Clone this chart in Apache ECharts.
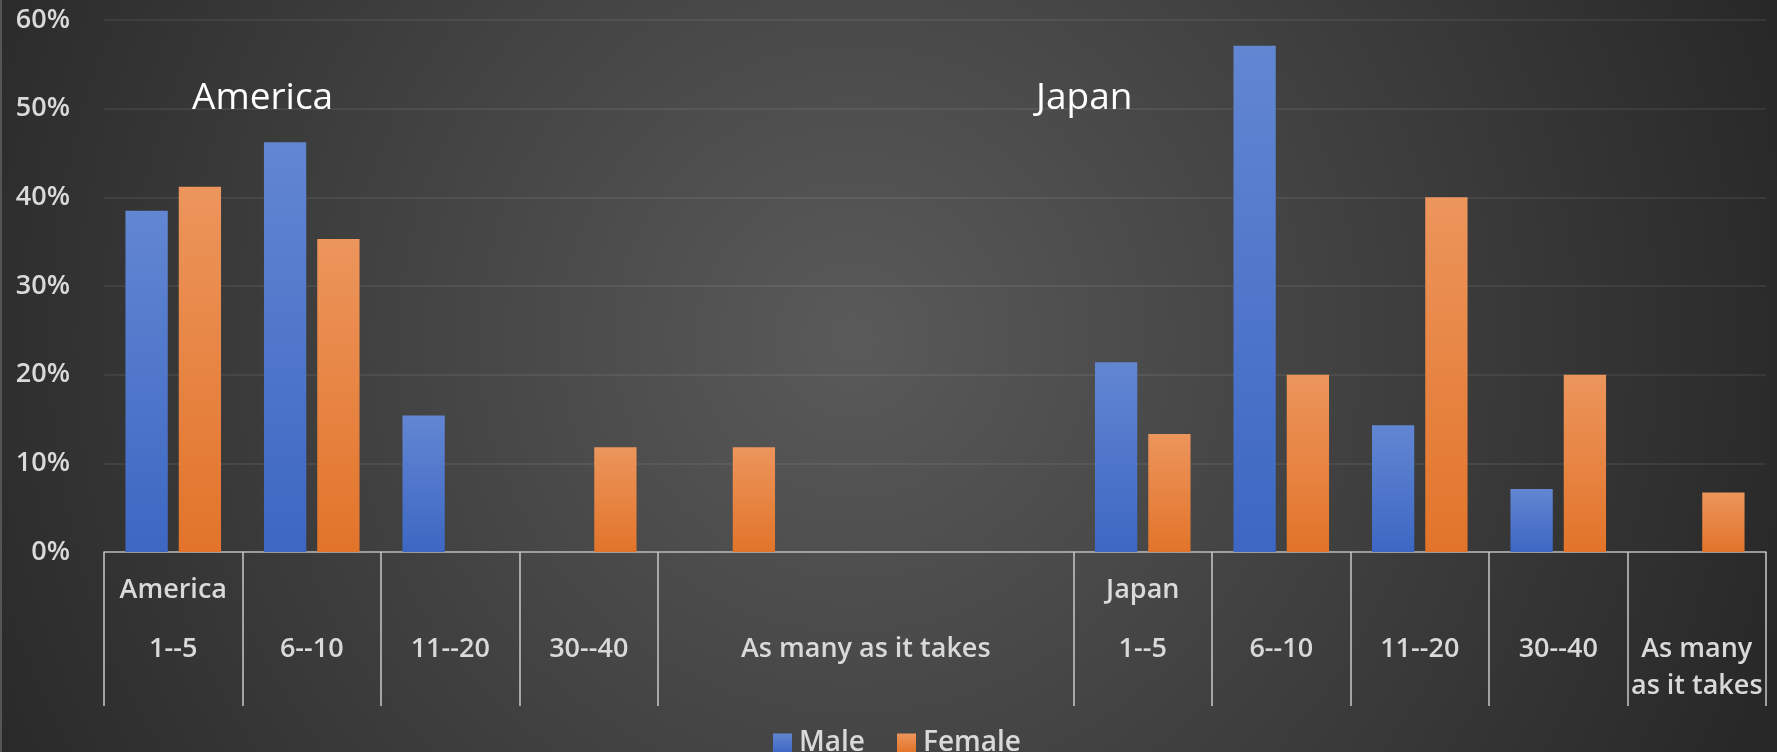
<!DOCTYPE html>
<html>
<head>
<meta charset="utf-8">
<script src="https://cdn.jsdelivr.net/npm/echarts@6/dist/echarts.min.js"></script>
<style>
  html, body { margin: 0; padding: 0; background: #2b2b2b; }
  #chart { width: 1777px; height: 752px; }
</style>
</head>
<body>
<div id="chart"></div>
<script>
// ---- data ----
const categories = ['1--5', '6--10', '11--20', '30--40', 'As many as it takes', '', '',
                    '1--5', '6--10', '11--20', '30--40', 'As many as it takes'];
const groupLabels = ['America', '', '', '', '', '', '', 'Japan', '', '', '', ''];
// displayed tick labels (America's last label spans the three-slot block and sits in its middle)
const tickLabels = ['1--5', '6--10', '11--20', '30--40', '', 'As many as it takes', '',
                    '1--5', '6--10', '11--20', '30--40', 'As many\nas it takes'];
const maleValues   = [38.5, 46.2, 15.4, null, null, null, null, 21.4, 57.1, 14.3, 7.1, null];
const femaleValues = [41.2, 35.3, null, 11.8, 11.8, null, null, 13.3, 20.0, 40.0, 20.0, 6.7];
const seriesNames = ['Male', 'Female'];
const annotations = ['America', 'Japan'];
const yMin = 0, yMax = 60, yInterval = 10;
const hiddenBoundaries = [5, 6];

const chart = echarts.init(document.getElementById('chart'), null, { renderer: 'canvas' });

const labelColor = '#d9d9d9';
const font = '"Open Sans", "Liberation Sans", sans-serif';

const option = {
  backgroundColor: {
    type: 'radial', x: 0.48, y: 0.45, r: 1.3,
    colorStops: [
      { offset: 0, color: '#5a5a5a' },
      { offset: 1, color: '#282828' }
    ]
  },
  textStyle: { fontFamily: font },
  grid: { left: 104, right: 11, top: 20, bottom: 200, containLabel: false, outerBoundsMode: 'none' },
  legend: {
    data: seriesNames,
    left: 768,
    top: 724,
    itemWidth: 19,
    itemHeight: 19,
    itemGap: 32,
    icon: 'rect',
    textStyle: { color: labelColor, fontSize: 28, fontWeight: 600, fontFamily: font, padding: [0, 0, 0, 2] }
  },
  xAxis: {
    type: 'category',
    data: categories,
    boundaryGap: true,
    axisLine: { show: true, lineStyle: { color: '#b8b8b8', width: 1.5 } },
    axisTick: {
      show: true,
      length: 154,
      interval: function (index) { return hiddenBoundaries.indexOf(index) < 0; },
      lineStyle: { color: '#c8c8c8', width: 1.5 }
    },
    splitLine: { show: false },
    axisLabel: {
      interval: 0,
      margin: 23,
      color: labelColor,
      formatter: function (value, index) {
        const g = groupLabels[index] || ' ';
        const lines = tickLabels[index].split('\n');
        return '{g|' + g + '}\n{s| }\n' + lines.map(l => '{c|' + (l || ' ') + '}').join('\n');
      },
      rich: {
        g: { fontSize: 27, fontWeight: 600, color: labelColor, lineHeight: 30, fontFamily: font },
        s: { fontSize: 10, lineHeight: 26, fontFamily: font },
        c: { fontSize: 27, fontWeight: 600, color: labelColor, lineHeight: 37, fontFamily: font }
      }
    }
  },
  yAxis: {
    type: 'value',
    min: yMin,
    max: yMax,
    interval: yInterval,
    axisLine: { show: false },
    axisTick: { show: false },
    axisLabel: {
      formatter: '{value}%',
      color: labelColor,
      fontSize: 27,
      fontWeight: 600,
      margin: 34,
      fontFamily: font
    },
    splitLine: { lineStyle: { color: 'rgba(255,255,255,0.09)', width: 1.5 } }
  },
  series: [
    {
      name: seriesNames[0],
      type: 'bar',
      data: maleValues,
      barCategoryGap: '31%',
      barGap: '26%',
      itemStyle: {
        color: {
          type: 'linear', x: 0, y: 0, x2: 0, y2: 1,
          colorStops: [
            { offset: 0, color: '#6286d2' },
            { offset: 1, color: '#3d67c3' }
          ]
        },
        shadowColor: 'rgba(0,0,0,0.55)',
        shadowBlur: 6
      }
    },
    {
      name: seriesNames[1],
      type: 'bar',
      data: femaleValues,
      barCategoryGap: '31%',
      barGap: '26%',
      itemStyle: {
        color: {
          type: 'linear', x: 0, y: 0, x2: 0, y2: 1,
          colorStops: [
            { offset: 0, color: '#ec955c' },
            { offset: 1, color: '#e2742a' }
          ]
        },
        shadowColor: 'rgba(0,0,0,0.55)',
        shadowBlur: 6
      }
    }
  ],
  graphic: [
    { type: 'line', shape: { x1: 1, y1: 0, x2: 1, y2: 752 }, style: { stroke: '#555555', lineWidth: 2 } },
    {
      type: 'text', left: 192, top: 80,
      style: { text: annotations[0], fill: '#ffffff', fontSize: 37, fontFamily: font }
    },
    {
      type: 'text', left: 1036, top: 80,
      style: { text: annotations[1], fill: '#ffffff', fontSize: 37, fontFamily: font }
    }
  ]
};

chart.setOption(option);
</script>
</body>
</html>
